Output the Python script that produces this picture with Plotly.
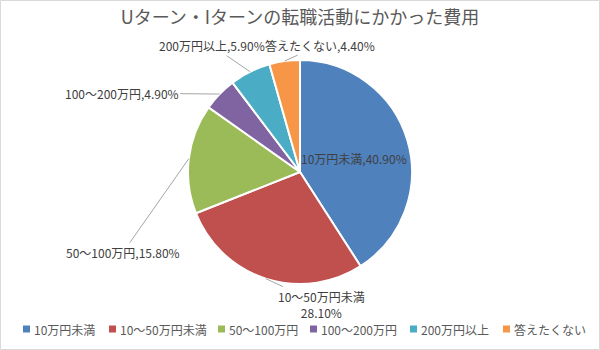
import math
import plotly.graph_objects as go

categories = ["10万円未満", "10～50万円未満", "50～100万円", "100～200万円", "200万円以上", "答えたくない"]
values = [40.9, 28.1, 15.8, 4.9, 5.9, 4.4]
colors = ["#4F81BD", "#C0504D", "#9BBB59", "#8064A2", "#4BACC6", "#F79646"]
title_text = "Uターン・Iターンの転職活動にかかった費用"

W, H = 600, 350
CX, CY, R = 300, 172, 112  # pie centre / radius in pixels
FONT = "Noto Sans CJK JP, sans-serif"

fig = go.Figure(go.Pie(
    labels=categories,
    values=values,
    sort=False,
    direction="clockwise",
    rotation=0,
    marker=dict(colors=colors, line=dict(color="white", width=2)),
    textinfo="none",
    hoverinfo="label+percent",
    showlegend=False,
    domain=dict(x=[(CX - R) / W, (CX + R) / W], y=[(H - CY - R) / H, (H - CY + R) / H]),
))

# label text offsets (pixels from slice edge to label centre); None -> inside label
offsets = [None, (56, 26), (-66, 94), (-98, -1), (-38, -26), (35, -16)]
label_texts = [
    f"{categories[0]},{values[0]:.2f}%",
    f"{categories[1]}<br>{values[1]:.2f}%",
    f"{categories[2]},{values[2]:.2f}%",
    f"{categories[3]},{values[3]:.2f}%",
    f"{categories[4]},{values[4]:.2f}%",
    f"{categories[5]},{values[5]:.2f}%",
]

total = sum(values)
cum = 0
for i, v in enumerate(values):
    mid = (cum + v / 2) / total * 2 * math.pi
    cum += v
    ex = CX + R * math.sin(mid)
    ey = CY - R * math.cos(mid)
    if offsets[i] is None:
        fig.add_annotation(x=354 / W, y=1 - 158 / H, xref="paper", yref="paper",
                           text=label_texts[i], showarrow=False,
                           font=dict(size=12, color="#404040"))
    else:
        ax, ay = offsets[i]
        fig.add_annotation(x=ex / W, y=1 - ey / H, xref="paper", yref="paper",
                           text=label_texts[i], showarrow=True, arrowhead=0,
                           arrowwidth=1, arrowcolor="#A6A6A6", ax=ax, ay=ay,
                           standoff=0,
                           font=dict(size=12, color="#404040"))

# custom single-row legend (square key + text)
legend_x = [23, 109, 218, 310, 410, 503]
legend_y = 329
for i, name in enumerate(categories):
    lx = legend_x[i]
    fig.add_shape(type="rect", xref="paper", yref="paper",
                  x0=lx / W, x1=(lx + 7) / W,
                  y0=1 - (legend_y + 3.5) / H, y1=1 - (legend_y - 3.5) / H,
                  line=dict(width=0), fillcolor=colors[i])
    fig.add_annotation(x=(lx + 9) / W, y=1 - legend_y / H, xref="paper", yref="paper",
                       xanchor="left", yanchor="middle", showarrow=False,
                       text=name, font=dict(size=12, color="#595959"))

fig.add_shape(type="rect", xref="paper", yref="paper",
              x0=0.5 / W, x1=1 - 0.5 / W, y0=0.5 / H, y1=1 - 0.5 / H,
              line=dict(color="#D9D9D9", width=1))

fig.update_layout(
    width=W, height=H,
    margin=dict(l=0, r=0, t=0, b=0),
    paper_bgcolor="white",
    font=dict(family=FONT, color="#595959"),
    title=dict(text=title_text, x=0.5, xanchor="center", y=1 - 18 / H, yanchor="middle",
               font=dict(size=18, color="#595959")),
    showlegend=False,
)

fig.write_html("out.html")
